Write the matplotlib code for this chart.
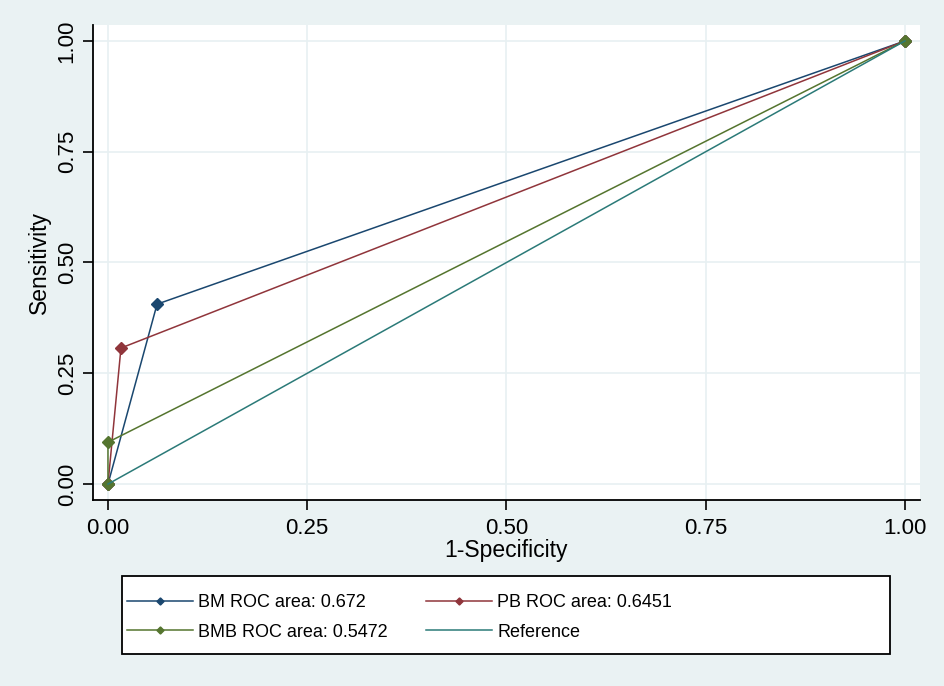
import matplotlib
matplotlib.use("Agg")
import matplotlib.pyplot as plt
from matplotlib.patches import Rectangle

# ROC points (1-specificity, sensitivity)
bm_x = [0.0, 0.0616, 1.0]
bm_y = [0.0, 0.406, 1.0]
pb_x = [0.0, 0.0163, 1.0]
pb_y = [0.0, 0.307, 1.0]
bmb_x = [0.0, 0.0, 1.0]
bmb_y = [0.0, 0.0944, 1.0]
ref_x = [0.0, 1.0]
ref_y = [0.0, 1.0]

labels = ["BM ROC area: 0.672", "PB ROC area: 0.6451",
          "BMB ROC area: 0.5472", "Reference"]
ticks = [0.0, 0.25, 0.5, 0.75, 1.0]
tick_labels = ["0.00", "0.25", "0.50", "0.75", "1.00"]

bg = "#eaf2f3"
plt.rcParams['font.family'] = ['Liberation Sans', 'DejaVu Sans']

fig = plt.figure(figsize=(9.45, 6.86), dpi=100, facecolor=bg)
ax = fig.add_axes([0.0984, 0.2711, 0.8751, 0.6925])
ax.set_facecolor("white")

h1, = ax.plot(bm_x, bm_y, color="#1a476f", lw=1.1, marker="D", ms=6)
h2, = ax.plot(pb_x, pb_y, color="#90353b", lw=1.1, marker="D", ms=6)
h3, = ax.plot(bmb_x, bmb_y, color="#55752f", lw=1.1, marker="D", ms=6)
h4, = ax.plot(ref_x, ref_y, color="#2b7a78", lw=1.1)

ax.set_xlim(-0.0188, 1.0188)
ax.set_ylim(-0.036, 1.036)
ax.set_xticks(ticks)
ax.set_xticklabels(tick_labels)
ax.set_yticks(ticks)
ax.set_yticklabels(tick_labels, rotation=90, va="center")
ax.tick_params(direction="out", length=7, width=1.2, labelsize=16)
ax.tick_params(axis="x", pad=6)
ax.tick_params(axis="y", pad=4)
ax.grid(True, color="#e8f0f2", lw=1.2)
ax.set_axisbelow(True)
for s in ["top", "right"]:
    ax.spines[s].set_visible(False)
for s in ["left", "bottom"]:
    ax.spines[s].set_linewidth(1.3)

ax.set_xlabel("1-Specificity", fontsize=16.5, labelpad=0)
ax.set_ylabel("Sensitivity", fontsize=16.5, labelpad=4)

# legend box frame drawn separately so the box can be wider than its entries
fig.patches.append(Rectangle((122 / 945, 32 / 686), 768 / 945, 78 / 686,
                             transform=fig.transFigure, facecolor="white",
                             edgecolor="black", lw=1.3, zorder=0))
# column-major order: BM, BMB | PB, Reference
order = [0, 2, 1, 3]
handles = [h1, h2, h3, h4]
fig.legend([handles[i] for i in order], [labels[i] for i in order], ncol=2,
           bbox_to_anchor=(127 / 945, 68.5 / 686), loc="center left",
           fontsize=13, frameon=False, numpoints=1, markerscale=0.6,
           handlelength=3.65, handletextpad=0.3, columnspacing=2.1,
           labelspacing=0.67, borderaxespad=0, borderpad=0)

fig.savefig("out.png", dpi=100, facecolor=bg)
